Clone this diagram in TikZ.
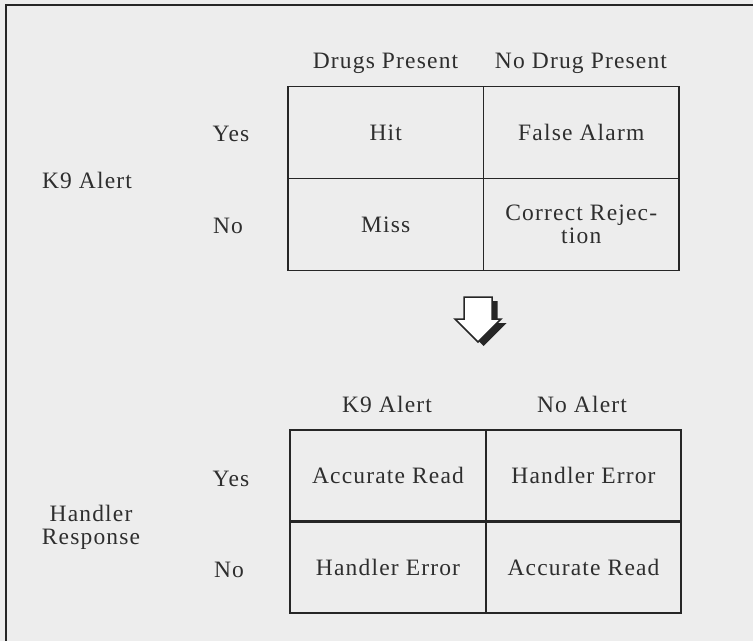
\documentclass[tikz,border=0pt]{standalone}
\usepackage{fontspec}
\setmainfont[LetterSpace=5]{Liberation Serif}
\definecolor{paper}{HTML}{EDEDED}
\definecolor{ink}{HTML}{262626}
\definecolor{txt}{HTML}{2E2E2E}
\newcommand{\tabfont}{\fontsize{23.5bp}{23bp}\selectfont}
\begin{document}
\begin{tikzpicture}[x=1bp,y=-1bp,
  every node/.style={inner sep=0pt, text=txt, font=\tabfont},
  cell/.style={draw=ink, line width=1.6bp, minimum width=195.5bp,
    minimum height=92bp, align=center},
  lbl/.style={anchor=base},
  frameline/.style={draw=ink, line width=2bp},
  arrowbody/.style={draw=ink, line width=1.5bp, fill=white, line join=miter},
  arrowshade/.style={fill=ink}]
  % page
  \fill[paper] (0,0) rectangle (753,641);
  \useasboundingbox (0,0) rectangle (753,641);
  \coordinate (fbl) at (6,641);
  \coordinate (ftl) at (6,5.5);
  \coordinate (ftr) at (753,5.5);
  \draw[frameline] (fbl) -- (ftl) -- (ftr);

  % detection matrix
  \node[lbl] (hdp) at (385.5,69) {Drugs Present};
  \node[lbl] (hnd) at (581,69) {No Drug Present};
  \node[lbl] (ty) at (231,141.7) {Yes};
  \node[lbl] (tn) at (228,233) {No};
  \node[lbl] (tk) at (87,189) {K9 Alert};
  \node[cell] (hit)  at (385.75,132.5) {Hit};
  \node[cell] (fa)   at (581.25,132.5) {False Alarm};
  \node[cell] (miss) at (385.75,224.5) {Miss};
  \node[cell] (cr)   at (581.25,224.5) {Correct Rejec-\\tion};

  % hollow down arrow with drop shadow
  \begin{scope}[shift={(5.5,4)}]
    \fill[arrowshade] (464,297) -- (492,297) -- (492,319) -- (501,319)
      -- (478,342) -- (455,319) -- (464,319) -- cycle;
  \end{scope}
  \filldraw[arrowbody] (464,297) -- (492,297) -- (492,319) -- (501,319)
    -- (478,342) -- (455,319) -- (464,319) -- cycle;

  % handler matrix
  \node[lbl] (hka) at (387,412) {K9 Alert};
  \node[lbl] (hna) at (582,412) {No Alert};
  \node[lbl] (by) at (231,486) {Yes};
  \node[lbl] (bn) at (229,577) {No};
  \node[anchor=north, align=center] (hr) at (91,504.5) {Handler\\Response};
  \node[cell] (ar1) at (388,475.75) {Accurate Read};
  \node[cell] (he1) at (583.5,475.75) {Handler Error};
  \node[cell] (he2) at (388,567.25) {Handler Error};
  \node[cell] (ar2) at (583.5,567.25) {Accurate Read};
\end{tikzpicture}
\end{document}
